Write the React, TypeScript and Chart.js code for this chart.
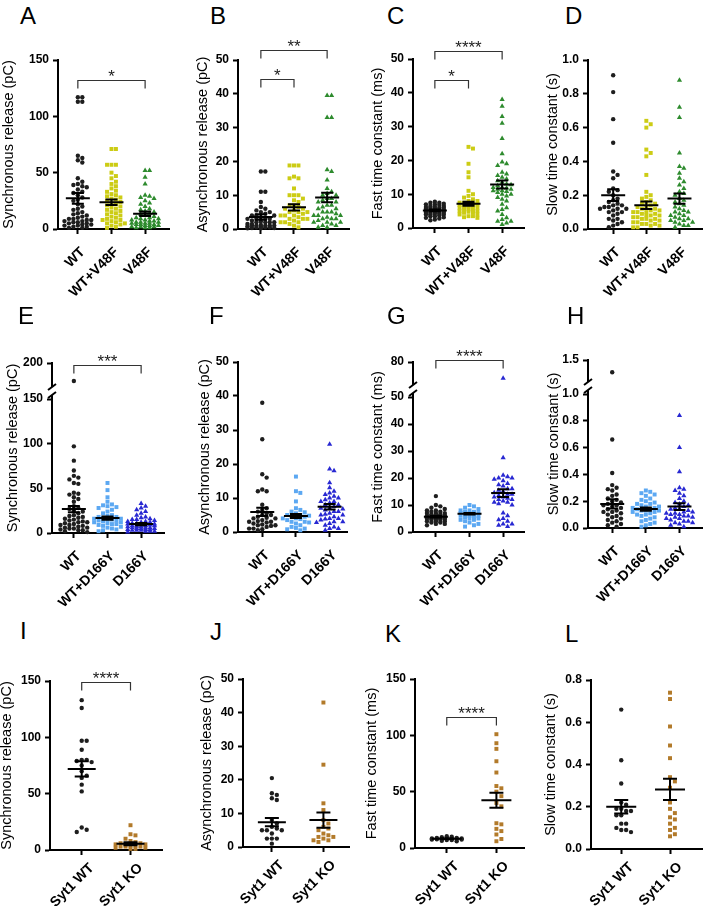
import React, { useEffect, useRef } from "react";
import { Chart, registerables } from "chart.js";
Chart.register(...registerables);

// ---------- categories ----------
const ROW1_CATS = ["WT", "WT+V48F", "V48F"];
const ROW2_CATS = ["WT", "WT+D166Y", "D166Y"];
const ROW3_CATS = ["Syt1 WT", "Syt1 KO"];

// ---------- A: synchronous release (pC) ----------
const A_WT = [117, 117, 113, 113, 65, 63, 61, 59, 45, 42, 40, 39, 38, 37, 35, 33, 32, 30, 28, 26, 25, 22, 20, 18, 17, 15, 14, 13, 12, 11, 10, 9, 9, 8, 8, 7, 7, 6, 6, 5, 5, 4, 4, 3, 3, 2, 2, 1, 1];
const A_WTV48F = [71, 71, 57, 57, 57, 50, 47, 45, 42, 40, 38, 36, 34, 33, 31, 30, 29, 28, 27, 26, 25, 24, 23, 22, 21, 20, 19, 18, 17, 16, 15, 14, 13, 12, 11, 10, 9, 8, 8, 7, 6, 5, 5, 4, 3, 2, 1];
const A_V48F = [52, 52, 46, 40, 30, 29, 28, 27, 25, 23, 22, 20, 18, 17, 16, 15, 14, 13, 12, 11, 10, 10, 9, 9, 8, 8, 7, 7, 6, 6, 6, 5, 5, 5, 4, 4, 4, 3, 3, 3, 2, 2, 2, 1, 1, 1];
const A_MEAN = [27.2, 23.7, 13.6];
const A_SEM = [4.7, 2.5, 2.0];

// ---------- B: asynchronous release (pC) ----------
const B_WT = [17, 17, 11, 11, 8, 6, 5, 5, 4, 4, 4, 3.5, 3, 3, 3, 2.5, 2, 2, 2, 2, 1.5, 1.5, 1, 1, 1, 1, 1, 0.8, 0.5, 0.5, 0.5, 0.3, 0.3, 0.2, 0.2, 4.5, 5.5, 6.5, 3, 2.2, 1.2, 0.7];
const B_WTV48F = [18.8, 18.8, 18.8, 15.5, 15, 15, 12, 10, 10, 10, 9, 8, 7, 7, 6, 6, 5, 5, 5, 4, 4, 4, 3, 3, 3, 2, 2, 2, 1, 0.5, 8.5, 6.5, 5.5, 4.5, 3.5, 2.5, 1.5];
const B_V48F = [39.5, 39.5, 33, 33, 17.5, 17, 14.5, 11, 10, 10, 9, 9, 8, 8, 7, 7, 6, 6, 5, 5, 5, 4, 4, 4, 3, 3, 3, 2, 2, 2, 1, 1, 0.5, 12, 10.5, 8.5, 6.5, 4.5, 3.5, 2.5, 1.5, 0.5];
const B_MEAN = [3.55, 6.4, 9.3];
const B_SEM = [0.8, 0.9, 1.4];

// ---------- C: fast time constant (ms) ----------
const C_WT = [7.8, 7.5, 7.5, 7.2, 7, 7, 6.8, 6.5, 6.5, 6.3, 6, 6, 6, 5.8, 5.5, 5.5, 5.5, 5.3, 5, 5, 5, 5, 4.8, 4.5, 4.5, 4.5, 4.3, 4, 4, 4, 3.8, 3.5, 3.5, 3.2, 3, 2.8, 2.5, 2.3, 5.2, 4.7, 5.7, 6.2, 4.2, 5.1];
const C_WTV48F = [24, 23.5, 19, 16.5, 15, 11, 10, 9.5, 9, 8.5, 8, 8, 7.5, 7.5, 7, 7, 7, 6.5, 6.5, 6, 6, 6, 5.5, 5.5, 5, 5, 5, 4.5, 4.5, 4, 4, 3.5, 3.5, 3, 3.2, 6.2, 5.8, 4.8, 7.2, 6.8];
const C_V48F = [38, 36, 33, 31, 26.5, 22, 19.5, 19, 18.5, 16, 15.5, 15, 14.5, 13, 12.5, 12, 12, 11.5, 11.5, 11, 11, 10.5, 10, 10, 9.5, 9, 8.5, 8, 7, 6, 5.5, 5, 4, 3, 2.5, 2, 2, 1.5, 1, 12.8, 11.8, 10.8, 13.5, 14, 16.5];
const C_MEAN = [5.2, 7.2, 12.85];
const C_SEM = [0.25, 0.6, 1.2];

// ---------- D: slow time constant (s) ----------
const D_WT = [0.91, 0.81, 0.65, 0.51, 0.34, 0.32, 0.3, 0.24, 0.23, 0.22, 0.2, 0.18, 0.17, 0.16, 0.15, 0.14, 0.13, 0.13, 0.12, 0.12, 0.11, 0.1, 0.1, 0.08, 0.06, 0.05, 0.04, 0.03, 0.02, 0.01, 0.14, 0.12, 0.06, 0.09];
const D_WTV48F = [0.64, 0.62, 0.6, 0.47, 0.45, 0.43, 0.32, 0.22, 0.2, 0.19, 0.18, 0.17, 0.16, 0.15, 0.14, 0.13, 0.12, 0.12, 0.11, 0.1, 0.1, 0.09, 0.08, 0.08, 0.07, 0.06, 0.06, 0.05, 0.04, 0.03, 0.02, 0.01, 0.11, 0.09, 0.13, 0.07, 0.05, 0.03, 0.15, 0.1, 0.02, 0.04, 0.06, 0.08, 0.01, 0.03];
const D_V48F = [0.88, 0.72, 0.66, 0.45, 0.37, 0.36, 0.33, 0.3, 0.28, 0.26, 0.24, 0.22, 0.21, 0.2, 0.18, 0.17, 0.15, 0.14, 0.12, 0.11, 0.1, 0.09, 0.08, 0.07, 0.06, 0.05, 0.05, 0.04, 0.03, 0.02, 0.01, 0.13, 0.08, 0.06, 0.04, 0.02, 0.1, 0.16];
const D_MEAN = [0.2, 0.14, 0.18];
const D_SEM = [0.035, 0.022, 0.03];

// ---------- E: synchronous release (pC), broken axis ----------
const E_WT = [175, 97, 81, 70, 64, 62, 60, 56, 55, 45, 44, 43, 40, 38, 35, 30, 28, 27, 25, 22, 20, 18, 17, 15, 14, 13, 12, 11, 10, 9, 8, 7, 6, 5, 5, 4, 3, 2, 1, 16, 12, 9, 6, 3, 24, 19];
const E_WTD166Y = [56, 48, 40, 35, 32, 31, 30, 29, 28, 26, 24, 22, 20, 19, 18, 17, 16, 15, 15, 14, 13, 12, 11, 10, 9, 8, 7, 6, 5, 4, 3, 2, 14, 16, 18, 12, 10];
const E_D166Y = [33, 30, 28, 26, 24, 22, 20, 18, 17, 16, 15, 14, 13, 12, 11, 10, 10, 9, 9, 8, 8, 7, 7, 6, 6, 5, 5, 4, 4, 3, 3, 2, 2, 1, 12, 11, 9, 8, 7, 6, 5, 4, 3, 2, 10, 13, 15];
const E_MEAN = [26.8, 16.7, 10];
const E_SEM = [3.5, 1.8, 1.2];

// ---------- F: asynchronous release (pC) ----------
const F_WT = [38, 27.3, 17, 16, 12.5, 12, 12, 8, 7, 6.5, 6, 5.5, 5, 5, 4.5, 4, 4, 3.5, 3, 3, 2.5, 2, 2, 1.5, 1, 1, 0.5, 3.2, 2.2, 1.8, 4.2, 2.8, 0.8];
const F_WTD166Y = [16.3, 12, 11.5, 9, 7, 6.5, 6, 5.5, 5, 5, 4.5, 4.5, 4, 4, 3.5, 3, 3, 2.5, 2, 1.5, 1, 0.5, 4.8, 3.8, 2.8, 5.8, 1.2, 0.8];
const F_D166Y = [25.8, 18.5, 18, 14.5, 13, 12, 11.5, 11, 10.5, 10, 10, 9.5, 9, 9, 8.5, 8, 8, 7.5, 7, 7, 6.5, 6, 6, 5.5, 5, 5, 4.5, 4, 4, 3.5, 3, 3, 2.5, 2, 1.5, 1, 1, 0.5, 6.8, 5.2, 3.8, 2.8];
const F_MEAN = [5.9, 4.7, 7.4];
const F_SEM = [1.2, 0.6, 0.8];

// ---------- G: fast time constant (ms), broken axis ----------
const G_WT = [13.3, 10, 9.5, 9, 8.5, 8, 8, 7.5, 7.5, 7, 7, 7, 6.5, 6.5, 6.5, 6, 6, 6, 6, 5.5, 5.5, 5.5, 5.5, 5, 5, 5, 5, 4.5, 4.5, 4.5, 4, 4, 4, 3.5, 3.5, 3, 3, 2.5, 5.8, 5.2, 6.2, 4.8];
const G_WTD166Y = [10, 9.5, 9, 8.5, 8, 8, 7.5, 7.5, 7, 7, 7, 6.5, 6.5, 6.5, 6, 6, 6, 5.5, 5.5, 5, 5, 4.5, 4.5, 4, 3.5, 3, 2.5, 2];
const G_D166Y = [66, 27.5, 21, 20.5, 20, 20, 19.5, 19, 18, 17.5, 17, 16, 16, 15.5, 15, 14.5, 14, 14, 13.5, 13, 13, 12.5, 12, 12, 11.5, 11, 11, 10.5, 10, 7, 6, 5, 4.5, 4, 3, 3, 2.5, 2];
const G_MEAN = [5.65, 6.76, 14.4];
const G_SEM = [0.3, 0.3, 1.4];

// ---------- H: slow time constant (s), broken axis ----------
const H_WT = [1.32, 0.66, 0.41, 0.32, 0.3, 0.29, 0.28, 0.25, 0.24, 0.22, 0.21, 0.2, 0.19, 0.18, 0.17, 0.16, 0.15, 0.14, 0.13, 0.12, 0.11, 0.1, 0.09, 0.08, 0.07, 0.05, 0.04, 0.03, 0.02, 0.01, 0.12, 0.17, 0.06];
const H_WTD166Y = [0.28, 0.27, 0.26, 0.25, 0.24, 0.22, 0.21, 0.2, 0.19, 0.18, 0.17, 0.16, 0.15, 0.15, 0.14, 0.14, 0.13, 0.13, 0.12, 0.12, 0.11, 0.1, 0.1, 0.09, 0.08, 0.07, 0.06, 0.05, 0.04, 0.03, 0.02, 0.01, 0.13, 0.16, 0.18];
const H_D166Y = [0.84, 0.6, 0.42, 0.3, 0.29, 0.28, 0.26, 0.24, 0.22, 0.2, 0.19, 0.18, 0.17, 0.16, 0.15, 0.14, 0.13, 0.12, 0.11, 0.1, 0.1, 0.09, 0.08, 0.08, 0.07, 0.06, 0.05, 0.04, 0.03, 0.02, 0.01, 0.12, 0.09, 0.05, 0.07, 0.11, 0.14, 0.04];
const H_MEAN = [0.18, 0.141, 0.16];
const H_SEM = [0.035, 0.012, 0.025];

// ---------- I-L: Syt1 WT vs KO ----------
const I_WT = [133, 126, 97, 97, 89, 80, 80, 79, 78, 75, 70, 66, 64, 58, 52, 20, 18, 16];
const I_KO = [22, 14, 13, 10, 8, 7, 6, 6, 5, 5, 4, 4, 3, 3, 2, 2, 1, 1, 3, 5];
const I_MEAN = [72, 5.6];
const I_SEM = [6.8, 1.3];

const J_WT = [20.5, 16, 15.5, 14.5, 14, 8, 7, 6, 5.5, 5, 5, 5, 4, 2.5, 2.5, 2.5, 1];
const J_KO = [43, 24.5, 13, 11, 8, 7, 6, 5.5, 5, 4, 3.5, 3, 3, 2.5, 2, 2, 1.5];
const J_MEAN = [7.4, 8.0];
const J_SEM = [1.2, 2.3];

const K_WT = [10.5, 10, 9.5, 9, 9, 8.5, 8.5, 8, 8, 8, 7.5, 7.5, 7, 7, 6.5, 6, 8.2, 7.8];
const K_KO = [101, 93, 88, 77, 67, 55, 53, 50, 46, 40, 37, 22, 21, 17, 15, 12, 8, 6];
const K_MEAN = [8.3, 42.4];
const K_SEM = [0.4, 6.7];

const L_WT = [0.66, 0.42, 0.31, 0.22, 0.21, 0.19, 0.19, 0.18, 0.18, 0.16, 0.16, 0.12, 0.12, 0.1, 0.09, 0.09, 0.08];
const L_KO = [0.74, 0.71, 0.58, 0.49, 0.43, 0.34, 0.32, 0.29, 0.22, 0.19, 0.17, 0.15, 0.14, 0.12, 0.1, 0.09, 0.07, 0.06];
const L_MEAN = [0.2, 0.282];
const L_SEM = [0.032, 0.05];

// ---------- styles ----------
const FONT = '"Liberation Sans", Arial, Helvetica, sans-serif';
const BLACK = "#1e1e1e";
const YELLOW = "#cccc14";
const GREEN = "#2e8b2e";
const LBLUE = "#5ca8f2";
const BLUE = "#2828d2";
const BROWN = "#b27a2a";
const ROW1_COLORS = [BLACK, YELLOW, GREEN];
const ROW2_COLORS = [BLACK, LBLUE, BLUE];
const ROW3_COLORS = [BLACK, BROWN];
const SHAPES = ["circle", "rect", "triangle"];
const RADIUS: Record<string, number> = { circle: 2.2, rect: 2.8, triangle: 3.0 };
const TITLE_SIZE = 14.5;
const TITLE_LH = TITLE_SIZE * 1.2;

type Bracket = { from: number; to: number; y: number; label: string; axis?: string };
type Broken = { lowerTop: number; topMin: number; topMax: number };
type PanelDef = {
  letter: string; lx: number; ly: number; tc: number;
  area: { l: number; t: number; r: number; b: number };
  ct: number; cb: number; xPad: number; xOff: number;
  cats: string[]; groups: number[][]; means: number[]; sems: number[];
  colors: string[]; title: string;
  yMin: number; yMax: number; step: number; dec: number;
  xMin: number; xMax: number;
  brackets: Bracket[]; broken?: Broken; mark: number; meanHalf: number; semHalf: number; spread: number;
};

const R1 = { ct: 30, cb: 304, xPad: 10, xOff: 5 };
const R2 = { ct: 335, cb: 610, xPad: 10, xOff: 5 };
const R3 = { ct: 650, cb: 906, xPad: 5, xOff: 10 };

const PANELS: PanelDef[] = [
  { letter: "A", lx: 20, ly: 4, tc: 9, area: { l: 58, t: 60, r: 170, b: 229 }, ...R1, cats: ROW1_CATS, groups: [A_WT, A_WTV48F, A_V48F], means: A_MEAN, sems: A_SEM, colors: ROW1_COLORS, title: "Synchronous release (pC)", yMin: 0, yMax: 150, step: 50, dec: 0, xMin: -0.59, xMax: 2.71, brackets: [{ from: 0, to: 2, y: 132, label: "*" }], mark: 4.5, meanHalf: 12, semHalf: 6, spread: 14 },
  { letter: "B", lx: 210, ly: 4, tc: 203, area: { l: 238, t: 60, r: 350, b: 229 }, ...R1, cats: ROW1_CATS, groups: [B_WT, B_WTV48F, B_V48F], means: B_MEAN, sems: B_SEM, colors: ROW1_COLORS, title: "Asynchronous release (pC)", yMin: 0, yMax: 50, step: 10, dec: 0, xMin: -0.69, xMax: 2.66, brackets: [{ from: 0, to: 2, y: 53, label: "**" }, { from: 0, to: 1, y: 44.4, label: "*" }], mark: 4.5, meanHalf: 12, semHalf: 6, spread: 14 },
  { letter: "C", lx: 387, ly: 4, tc: 378, area: { l: 413, t: 59, r: 525, b: 228 }, ...R1, cats: ROW1_CATS, groups: [C_WT, C_WTV48F, C_V48F], means: C_MEAN, sems: C_SEM, colors: ROW1_COLORS, title: "Fast time constant (ms)", yMin: 0, yMax: 50, step: 10, dec: 0, xMin: -0.65, xMax: 2.65, brackets: [{ from: 0, to: 2, y: 52.4, label: "****" }, { from: 0, to: 1, y: 43.8, label: "*" }], mark: 4.5, meanHalf: 12, semHalf: 6, spread: 13 },
  { letter: "D", lx: 565, ly: 4, tc: 553, area: { l: 588, t: 60, r: 705, b: 229 }, ...R1, cats: ROW1_CATS, groups: [D_WT, D_WTV48F, D_V48F], means: D_MEAN, sems: D_SEM, colors: ROW1_COLORS, title: "Slow time constant (s)", yMin: 0, yMax: 1, step: 0.2, dec: 1, xMin: -0.76, xMax: 2.68, brackets: [], mark: 4.5, meanHalf: 12, semHalf: 6, spread: 14 },
  { letter: "E", lx: 18, ly: 304, tc: 13, area: { l: 52, t: 363, r: 165, b: 533 }, ...R2, cats: ROW2_CATS, groups: [E_WT, E_WTD166Y, E_D166Y], means: E_MEAN, sems: E_SEM, colors: ROW2_COLORS, title: "Synchronous release (pC)", yMin: 0, yMax: 150, step: 50, dec: 0, xMin: -0.65, xMax: 2.68, brackets: [{ from: 0, to: 2, y: 197, label: "***", axis: "yTop" }], broken: { lowerTop: 399, topMin: 150, topMax: 200 }, mark: 4.5, meanHalf: 12, semHalf: 6, spread: 14 },
  { letter: "F", lx: 209, ly: 304, tc: 205, area: { l: 238, t: 362, r: 350, b: 532 }, ...R2, cats: ROW2_CATS, groups: [F_WT, F_WTD166Y, F_D166Y], means: F_MEAN, sems: F_SEM, colors: ROW2_COLORS, title: "Asynchronous release (pC)", yMin: 0, yMax: 50, step: 10, dec: 0, xMin: -0.72, xMax: 2.52, brackets: [], mark: 4.5, meanHalf: 12, semHalf: 6, spread: 14 },
  { letter: "G", lx: 387, ly: 304, tc: 378, area: { l: 413, t: 362, r: 525, b: 532 }, ...R2, cats: ROW2_CATS, groups: [G_WT, G_WTD166Y, G_D166Y], means: G_MEAN, sems: G_SEM, colors: ROW2_COLORS, title: "Fast time constant (ms)", yMin: 0, yMax: 50, step: 10, dec: 0, xMin: -0.68, xMax: 2.62, brackets: [{ from: 0, to: 2, y: 81.7, label: "****", axis: "yTop" }], broken: { lowerTop: 397, topMin: 50, topMax: 80 }, mark: 4.5, meanHalf: 12, semHalf: 6, spread: 13 },
  { letter: "H", lx: 567, ly: 304, tc: 554, area: { l: 588, t: 360, r: 705, b: 528 }, ...R2, cats: ROW2_CATS, groups: [H_WT, H_WTD166Y, H_D166Y], means: H_MEAN, sems: H_SEM, colors: ROW2_COLORS, title: "Slow time constant (s)", yMin: 0, yMax: 1, step: 0.2, dec: 1, xMin: -0.72, xMax: 2.67, brackets: [], broken: { lowerTop: 394, topMin: 1, topMax: 1.5 }, mark: 4.5, meanHalf: 12, semHalf: 6, spread: 14 },
  { letter: "I", lx: 20, ly: 619, tc: 7, area: { l: 50, t: 681, r: 163, b: 850 }, ...R3, cats: ROW3_CATS, groups: [I_WT, I_KO], means: I_MEAN, sems: I_SEM, colors: ROW3_COLORS, title: "Synchronous release (pC)", yMin: 0, yMax: 150, step: 50, dec: 0, xMin: -0.65, xMax: 1.65, brackets: [{ from: 0, to: 1, y: 149.5, label: "****" }], mark: 5, meanHalf: 14, semHalf: 7, spread: 15 },
  { letter: "J", lx: 210, ly: 620, tc: 207, area: { l: 243, t: 679, r: 350, b: 847 }, ...R3, cats: ROW3_CATS, groups: [J_WT, J_KO], means: J_MEAN, sems: J_SEM, colors: ROW3_COLORS, title: "Asynchronous release (pC)", yMin: 0, yMax: 50, step: 10, dec: 0, xMin: -0.56, xMax: 1.5, brackets: [], mark: 5, meanHalf: 14, semHalf: 7, spread: 15 },
  { letter: "K", lx: 385, ly: 622, tc: 372, area: { l: 415, t: 679, r: 525, b: 848 }, ...R3, cats: ROW3_CATS, groups: [K_WT, K_KO], means: K_MEAN, sems: K_SEM, colors: ROW3_COLORS, title: "Fast time constant (ms)", yMin: 0, yMax: 150, step: 50, dec: 0, xMin: -0.64, xMax: 1.56, brackets: [{ from: 0, to: 1, y: 116.3, label: "****" }], mark: 5, meanHalf: 15, semHalf: 7, spread: 15 },
  { letter: "L", lx: 565, ly: 622, tc: 551, area: { l: 591, t: 680, r: 705, b: 849 }, ...R3, cats: ROW3_CATS, groups: [L_WT, L_KO], means: L_MEAN, sems: L_SEM, colors: ROW3_COLORS, title: "Slow time constant (s)", yMin: 0, yMax: 0.8, step: 0.2, dec: 1, xMin: -0.62, xMax: 1.66, brackets: [], mark: 5, meanHalf: 15, semHalf: 7, spread: 15 },
];

// Place points of one group side by side (bee-swarm), limited to +/- spread px.
function swarm(vals: number[], cat: number, pxPerY: number, pxPerCat: number, mark: number, spread: number) {
  const sorted = [...vals].sort((a, b) => b - a);
  const placed: { ox: number; py: number }[] = [];
  const out: { x: number; y: number }[] = [];
  const cands: number[] = [0];
  for (let k = 1; k * mark <= spread + 0.01; k++) cands.push(k * mark, -k * mark);
  for (const v of sorted) {
    const py = v * pxPerY;
    let best = cands[0];
    let bestScore = -1;
    for (const c of cands) {
      let minD = Infinity;
      for (const q of placed) {
        const dy = q.py - py;
        if (Math.abs(dy) > mark * 2) continue;
        const dx = q.ox - c;
        minD = Math.min(minD, Math.hypot(dx, dy));
      }
      if (minD >= mark * 0.95) { best = c; bestScore = Infinity; break; }
      if (minD > bestScore) { bestScore = minD; best = c; }
    }
    placed.push({ ox: best, py });
    out.push({ x: cat + best / pxPerCat, y: v });
  }
  return out;
}

function Panel({ p }: { p: PanelDef }) {
  const ref = useRef<HTMLCanvasElement>(null);
  const cl = Math.round(p.tc - TITLE_LH / 2);
  const cr = Math.min(705, p.area.r + 2);
  const cw = cr - cl;
  const ch = p.cb - p.ct;

  useEffect(() => {
    if (!ref.current) return;
    const yw = p.area.l - cl;
    const xh = p.cb - p.area.b;
    const lowerTop = p.broken ? p.broken.lowerTop : p.area.t;
    const pxPerY = (p.area.b - lowerTop) / (p.yMax - p.yMin);
    const pxPerYTop = p.broken ? (lowerTop - p.area.t) / (p.broken.topMax - p.broken.topMin) : 1;
    const pxPerCat = (p.area.r - p.area.l) / (p.xMax - p.xMin);

    const datasets: any[] = [];
    p.groups.forEach((vals, i) => {
      const shape = SHAPES[i];
      const style = {
        pointStyle: shape,
        pointRadius: RADIUS[shape],
        pointHoverRadius: RADIUS[shape],
        backgroundColor: p.colors[i],
        borderColor: p.colors[i],
        borderWidth: 0,
        clip: false as any,
      };
      const low = p.broken ? vals.filter((v) => v <= p.yMax) : vals;
      const high = p.broken ? vals.filter((v) => v > p.yMax) : [];
      datasets.push({ data: swarm(low, i, pxPerY, pxPerCat, p.mark, p.spread), yAxisID: "y", ...style });
      if (high.length) datasets.push({ data: swarm(high, i, pxPerYTop, pxPerCat, p.mark, p.spread), yAxisID: "yTop", ...style });
    });

    const tickFont = { family: FONT, size: 12, weight: "bold" as const };
    const yBase = (min: number, max: number) => ({
      type: "linear" as const,
      position: "left" as const,
      min,
      max,
      border: { display: true, color: "#000", width: 2 },
      grid: { display: true, drawOnChartArea: false, drawTicks: true, tickLength: 5, tickWidth: 2, tickColor: "#000", color: "#000" },
      afterFit: (s: any) => { s.width = yw; },
    });

    const scales: any = {
      x: {
        type: "linear",
        min: p.xMin,
        max: p.xMax,
        border: { display: true, color: "#000", width: 2 },
        grid: { display: true, drawOnChartArea: false, drawTicks: true, tickLength: 5, tickWidth: 2, tickColor: "#000", color: "#000" },
        afterBuildTicks: (s: any) => { s.ticks = p.cats.map((_, i) => ({ value: i })); },
        ticks: {
          autoSkip: false, minRotation: 45, maxRotation: 45, color: "#000", padding: p.xPad, labelOffset: p.xOff,
          font: { family: FONT, size: 14, weight: "bold" },
          callback: (v: any) => p.cats[Math.round(Number(v))] ?? "",
        },
        afterFit: (s: any) => { s.height = xh; },
      },
      y: {
        ...yBase(p.yMin, p.yMax),
        ticks: { stepSize: p.step, color: "#000", font: tickFont, padding: 4, callback: (v: any) => Number(v).toFixed(p.dec) },
        title: p.broken
          ? { display: false }
          : { display: true, text: p.title, color: "#000", font: { family: FONT, size: TITLE_SIZE }, padding: { top: 0, bottom: 0 } },
        ...(p.broken ? { stack: "left", stackWeight: p.area.b - p.broken.lowerTop } : {}),
      },
    };
    if (p.broken) {
      const br = p.broken;
      scales.yTop = {
        ...yBase(br.topMin, br.topMax),
        stack: "left",
        stackWeight: br.lowerTop - p.area.t,
        afterBuildTicks: (s: any) => { s.ticks = [{ value: br.topMax }]; },
        ticks: { color: "#000", font: tickFont, padding: 4, callback: (v: any) => Number(v).toFixed(p.dec) },
      };
    }

    const extras = {
      id: "extras" + p.letter,
      afterDatasetsDraw(chart: any) {
        const ctx = chart.ctx;
        const xs = chart.scales.x;
        ctx.save();
        ctx.strokeStyle = "#000";
        ctx.lineWidth = 2;
        p.means.forEach((m, i) => {
          const ys = chart.scales.y;
          const cx = xs.getPixelForValue(i);
          const ym = ys.getPixelForValue(m);
          const yu = ys.getPixelForValue(m + p.sems[i]);
          const yl = ys.getPixelForValue(m - p.sems[i]);
          ctx.beginPath();
          ctx.moveTo(cx - p.meanHalf, ym); ctx.lineTo(cx + p.meanHalf, ym);
          ctx.moveTo(cx - p.semHalf, yu); ctx.lineTo(cx + p.semHalf, yu);
          ctx.moveTo(cx - p.semHalf, yl); ctx.lineTo(cx + p.semHalf, yl);
          ctx.moveTo(cx, yu); ctx.lineTo(cx, yl);
          ctx.stroke();
        });
        ctx.restore();
      },
      afterDraw(chart: any) {
        const ctx = chart.ctx;
        const xs = chart.scales.x;
        const area = chart.chartArea;
        ctx.save();
        p.brackets.forEach((b) => {
          const ys = chart.scales[b.axis || "y"];
          const x1 = xs.getPixelForValue(b.from);
          const x2 = xs.getPixelForValue(b.to);
          const yb = Math.round(ys.getPixelForValue(b.y)) + 0.5;
          ctx.strokeStyle = "#333";
          ctx.lineWidth = 1.2;
          ctx.beginPath();
          ctx.moveTo(x1, yb + 8); ctx.lineTo(x1, yb); ctx.lineTo(x2, yb); ctx.lineTo(x2, yb + 8);
          ctx.stroke();
          ctx.fillStyle = "#222";
          ctx.font = `17px ${FONT}`;
          ctx.textAlign = "center";
          ctx.textBaseline = "alphabetic";
          ctx.fillText(b.label, (x1 + x2) / 2, yb + 1);
        });
        if (p.broken) {
          const lowerTopPx = chart.scales.y.top;
          const ax = area.left;
          const g1 = lowerTopPx - 12;
          const g2 = lowerTopPx - 4;
          ctx.fillStyle = "#fff";
          ctx.fillRect(ax - 2, g1, 4, g2 - g1);
          ctx.strokeStyle = "#000";
          ctx.lineWidth = 2;
          ctx.beginPath();
          ctx.moveTo(ax - 4, g1 + 3); ctx.lineTo(ax + 4, g1 - 3);
          ctx.moveTo(ax - 4, g2 + 3); ctx.lineTo(ax + 4, g2 - 3);
          ctx.stroke();
          ctx.translate(chart.scales.y.left + TITLE_LH / 2, (area.top + area.bottom) / 2);
          ctx.rotate(-Math.PI / 2);
          ctx.fillStyle = "#000";
          ctx.font = `${TITLE_SIZE}px ${FONT}`;
          ctx.textAlign = "center";
          ctx.textBaseline = "middle";
          ctx.fillText(p.title, 0, 0);
        }
        ctx.restore();
      },
    };

    const chart = new Chart(ref.current, {
      type: "scatter",
      data: { datasets },
      options: {
        animation: false,
        responsive: false,
        events: [],
        layout: { padding: { left: 0, right: cr - p.area.r, top: p.area.t - p.ct, bottom: 0 } },
        plugins: { legend: { display: false }, tooltip: { enabled: false } },
        scales,
      },
      plugins: [extras],
    } as any);
    return () => chart.destroy();
  }, [p]);

  return (
    <canvas
      ref={ref}
      width={cw}
      height={ch}
      style={{ position: "absolute", left: cl, top: p.ct, width: cw, height: ch }}
    />
  );
}

export default function App() {
  return (
    <div style={{ position: "absolute", left: 0, top: 0, width: 705, height: 906, overflow: "hidden", background: "#fff" }}>
      {PANELS.map((p) => (
        <Panel key={p.letter} p={p} />
      ))}
      {PANELS.map((p) => (
        <div
          key={"l" + p.letter}
          style={{ position: "absolute", left: p.lx, top: p.ly, fontFamily: FONT, fontSize: 24, lineHeight: 1, color: "#000" }}
        >
          {p.letter}
        </div>
      ))}
    </div>
  );
}
